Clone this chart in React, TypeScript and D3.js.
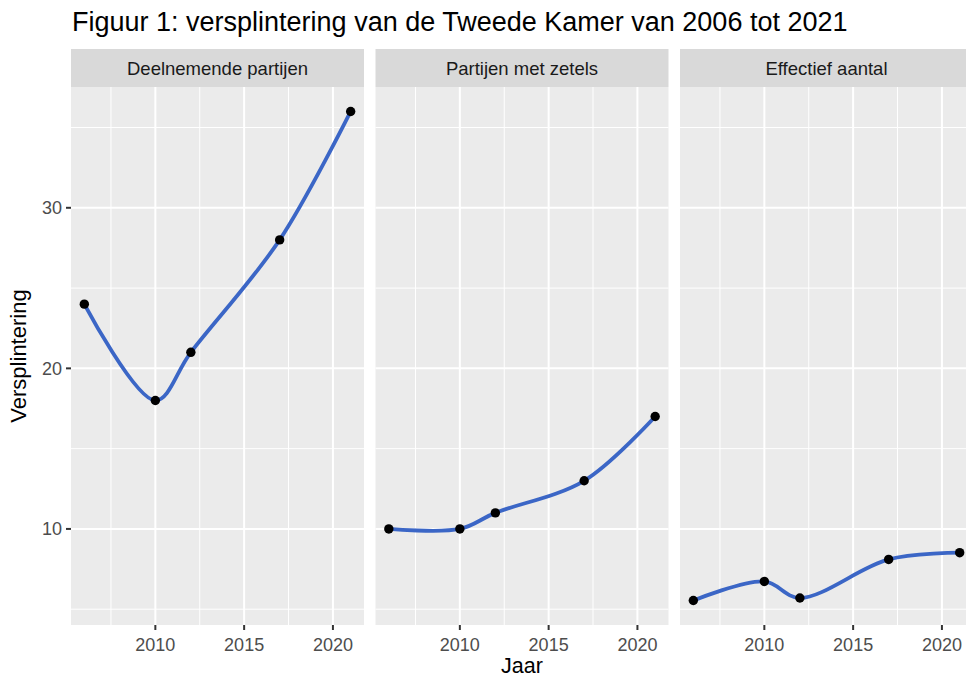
import React from 'react';
import * as d3 from 'd3';

const years = [2006, 2010, 2012, 2017, 2021];
const panelLabels = ['Deelnemende partijen', 'Partijen met zetels', 'Effectief aantal'];
const deelnemend = [24, 18, 21, 28, 36];
const metZetels = [10, 10, 11, 13, 17];
const effectief = [5.54, 6.73, 5.7, 8.1, 8.52];
const xTicks = [2010, 2015, 2020];
const xMinor = [2007.5, 2012.5, 2017.5];
const yTicks = [10, 20, 30];
const yMinor = [5, 15, 25, 35];

const series = [deelnemend, metZetels, effectief];

const W = 966;
const H = 677;
const left = 71;
const panelW = 293;
const step = 304.5;
const stripTop = 49;
const stripH = 38;
const top = stripTop + stripH;
const bottom = 625;
const font = 'Liberation Sans, Arial, sans-serif';

const expand = ([a, b]: number[]) => {
  const pad = (b - a) * 0.05;
  return [a - pad, b + pad];
};

const App: React.FC = () => {
  const xDomain = expand(d3.extent(years) as number[]);
  const yDomain = expand(d3.extent(series.flat()) as number[]);

  const y = d3.scaleLinear().domain(yDomain).range([bottom, top]);

  return (
    <div style={{ position: 'absolute', left: 0, top: 0 }}>
      <svg width={W} height={H} style={{ display: 'block', background: '#fff' }}>
        <text x={72} y={31} fontFamily={font} fontSize={27} fill="#000">
          Figuur 1: versplintering van de Tweede Kamer van 2006 tot 2021
        </text>

        {series.map((vals, i) => {
          const x0 = left + i * step;
          const x = d3.scaleLinear().domain(xDomain).range([x0, x0 + panelW]);
          const pts = years.map((yr, k) => [x(yr), y(vals[k])] as [number, number]);
          const line = d3.line().curve(d3.curveCatmullRom.alpha(0.5))(pts) || '';
          return (
            <g key={i}>
              <rect x={x0} y={stripTop} width={panelW} height={stripH} fill="#d9d9d9" />
              <text
                x={x0 + panelW / 2}
                y={75}
                textAnchor="middle"
                fontFamily={font}
                fontSize={18.5}
                fill="#1a1a1a"
              >
                {panelLabels[i]}
              </text>
              <rect x={x0} y={top} width={panelW} height={bottom - top} fill="#ebebeb" />
              {yMinor.map(t => (
                <line key={'ym' + t} x1={x0} x2={x0 + panelW} y1={y(t)} y2={y(t)} stroke="#fff" strokeWidth={1} />
              ))}
              {xMinor.map(t => (
                <line key={'xm' + t} x1={x(t)} x2={x(t)} y1={top} y2={bottom} stroke="#fff" strokeWidth={1} />
              ))}
              {yTicks.map(t => (
                <line key={'y' + t} x1={x0} x2={x0 + panelW} y1={y(t)} y2={y(t)} stroke="#fff" strokeWidth={2} />
              ))}
              {xTicks.map(t => (
                <line key={'x' + t} x1={x(t)} x2={x(t)} y1={top} y2={bottom} stroke="#fff" strokeWidth={2} />
              ))}
              <path d={line} fill="none" stroke="#3b66c6" strokeWidth={3.8} strokeLinecap="round" />
              {pts.map((p, k) => (
                <circle key={k} cx={p[0]} cy={p[1]} r={4.7} fill="#000" />
              ))}
              {xTicks.map(t => (
                <g key={'xt' + t}>
                  <line x1={x(t)} x2={x(t)} y1={bottom} y2={bottom + 5} stroke="#333" strokeWidth={2} />
                  <text
                    x={x(t)}
                    y={651}
                    textAnchor="middle"
                    fontFamily={font}
                    fontSize={18}
                    fill="#4d4d4d"
                  >
                    {t}
                  </text>
                </g>
              ))}
            </g>
          );
        })}

        {yTicks.map(t => (
          <g key={'yt' + t}>
            <line x1={left - 5} x2={left} y1={y(t)} y2={y(t)} stroke="#333" strokeWidth={2} />
            <text
              x={left - 9}
              y={y(t)}
              dy="0.35em"
              textAnchor="end"
              fontFamily={font}
              fontSize={18}
              fill="#4d4d4d"
            >
              {t}
            </text>
          </g>
        ))}

        <text
          transform={`translate(26,${(top + bottom) / 2}) rotate(-90)`}
          textAnchor="middle"
          fontFamily={font}
          fontSize={22}
          fill="#000"
        >
          Versplintering
        </text>
        <text x={522} y={673} textAnchor="middle" fontFamily={font} fontSize={21.5} fill="#000">
          Jaar
        </text>
      </svg>
    </div>
  );
};

export default App;
